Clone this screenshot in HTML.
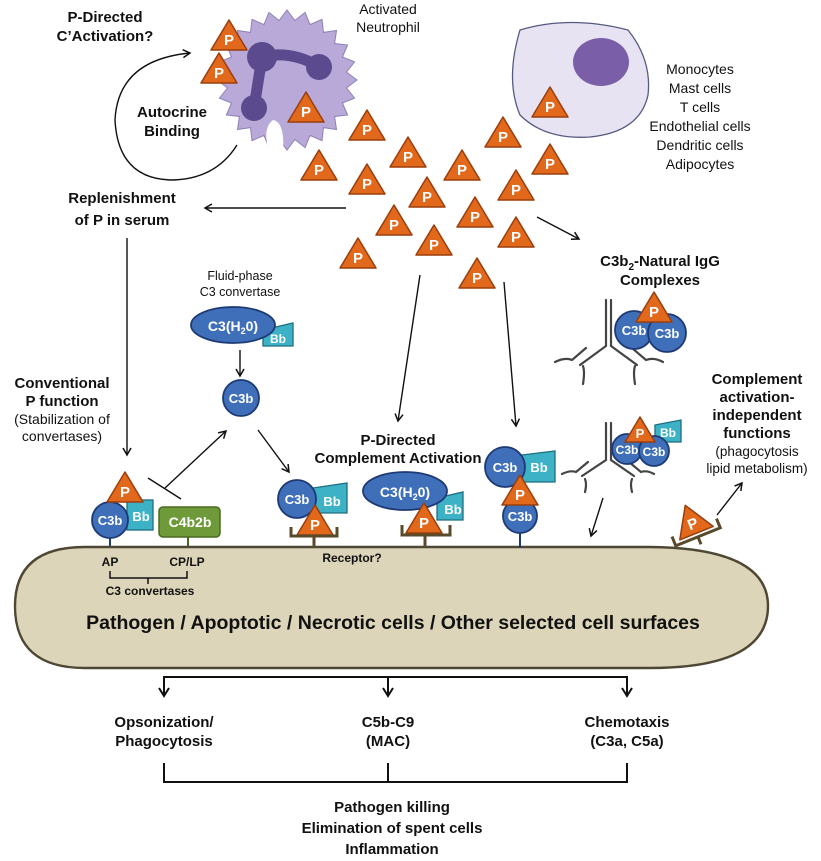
<!DOCTYPE html>
<html><head><meta charset="utf-8"><style>
html,body{margin:0;padding:0;background:#fff;}
svg{display:block;font-family:"Liberation Sans",Arial,sans-serif;}
.b{font-weight:bold;fill:#111;font-size:15px;text-anchor:middle;}
.r{fill:#111;font-size:14px;text-anchor:middle;}
.w{fill:#fff;font-weight:bold;text-anchor:middle;}
.ln{stroke:#111;stroke-width:1.4;fill:none;}
.c3b{fill:#3f6fb8;stroke:#1d3a75;stroke-width:1.8;}
.bb{fill:#3db2c6;stroke:#1d6f80;stroke-width:1.3;}
.tri{fill:#e2691c;stroke:#9a3e0c;stroke-width:1.5;stroke-linejoin:round;}
.rec{stroke:#5a4a2a;stroke-width:3;fill:none;}
.ab{stroke:#444;stroke-width:2.2;fill:none;stroke-linecap:round;}
</style></head><body>
<svg width="821" height="861" viewBox="0 0 821 861" xmlns="http://www.w3.org/2000/svg">
<defs>
<marker id="ar" markerWidth="10" markerHeight="10" refX="8" refY="5" orient="auto" markerUnits="userSpaceOnUse">
<path d="M1,1 L8,5 L1,9" fill="none" stroke="#111" stroke-width="1.5"/></marker>
<g id="P"><polygon class="tri" points="0,-18 18,12 -18,12"/><text class="w" y="7" font-size="15">P</text></g>
<g id="Ps"><polygon class="tri" points="0,-15 15,10 -15,10"/><text class="w" y="6" font-size="13">P</text></g>
</defs>

<!-- neutrophil -->
<circle cx="287" cy="80" r="61" fill="#b9a9d9"/>
<polygon fill="#b9a9d9" stroke="#8f80b6" stroke-width="1" points="357,80 346.5,87.9 354.6,98.1 342.4,103 347.6,115 334.6,116.5 336.5,129.5 323.5,127.6 322,140.6 310,135.4 305.1,147.6 294.9,139.5 287,150 279.1,139.5 268.9,147.6 264,135.4 252,140.6 250.5,127.6 237.5,129.5 239.4,116.5 226.4,115 231.6,103 219.4,98.1 227.5,87.9 217,80 227.5,72.1 219.4,61.9 231.6,57 226.4,45 239.4,43.5 237.5,30.5 250.5,32.4 252,19.4 264,24.6 268.9,12.4 279.1,20.5 287,10 294.9,20.5 305.1,12.4 310,24.6 322,19.4 323.5,32.4 336.5,30.5 334.6,43.5 347.6,45 342.4,57 354.6,61.9 346.5,72.1"/>
<path d="M269,152 Q262,128 273,120 Q285,122 283,152 Z" fill="#fff"/>
<path d="M262,57 Q290,50 318,66 M262,57 L254,108" stroke="#5b4b8e" stroke-width="11" fill="none" stroke-linecap="round"/>
<circle cx="262" cy="57" r="15" fill="#5b4b8e"/>
<circle cx="319" cy="67" r="13" fill="#5b4b8e"/>
<circle cx="254" cy="108" r="13" fill="#5b4b8e"/>

<text class="b" x="105" y="22">P-Directed</text>
<text class="b" x="105" y="41">C’Activation?</text>
<text class="r" x="388" y="14">Activated</text>
<text class="r" x="388" y="32">Neutrophil</text>
<path class="ln" d="M237,145 Q215,180 170,180 Q118,178 115,120 Q118,60 190,53" marker-end="url(#ar)"/>
<text class="b" x="172" y="117">Autocrine</text>
<text class="b" x="172" y="136">Binding</text>

<!-- other cell -->
<path d="M520,30 Q570,15 628,30 Q652,60 648,95 Q640,132 590,137 Q545,140 520,115 Q505,80 520,30 Z" fill="#e7e3f2" stroke="#555a80" stroke-width="1.3"/>
<ellipse cx="601" cy="62" rx="28" ry="24" fill="#7a5fa8"/>
<g class="r">
<text x="700" y="74">Monocytes</text><text x="700" y="93">Mast cells</text><text x="700" y="112">T cells</text>
<text x="700" y="131">Endothelial cells</text><text x="700" y="150">Dendritic cells</text><text x="700" y="169">Adipocytes</text></g>

<!-- P triangles -->
<use href="#P" x="229" y="38"/><use href="#P" x="219" y="71"/><use href="#P" x="306" y="110"/>
<use href="#P" x="550" y="105"/>
<use href="#P" x="367" y="128"/><use href="#P" x="408" y="155"/><use href="#P" x="319" y="168"/>
<use href="#P" x="367" y="182"/><use href="#P" x="462" y="168"/><use href="#P" x="503" y="135"/>
<use href="#P" x="550" y="162"/><use href="#P" x="427" y="195"/><use href="#P" x="516" y="188"/>
<use href="#P" x="394" y="223"/><use href="#P" x="475" y="215"/><use href="#P" x="516" y="235"/>
<use href="#P" x="434" y="243"/><use href="#P" x="358" y="256"/><use href="#P" x="477" y="276"/>

<!-- replenishment -->
<line class="ln" x1="346" y1="208" x2="205" y2="208" marker-end="url(#ar)"/>
<text class="b" x="122" y="203">Replenishment</text>
<text class="b" x="122" y="225">of P in serum</text>
<line class="ln" x1="127" y1="238" x2="127" y2="455" marker-end="url(#ar)"/>

<text class="b" x="62" y="388">Conventional</text>
<text class="b" x="62" y="406">P function</text>
<text class="r" x="62" y="424">(Stabilization of</text>
<text class="r" x="62" y="441">convertases)</text>

<!-- fluid phase -->
<text class="r" x="240" y="280" style="font-size:12.5px">Fluid-phase</text>
<text class="r" x="240" y="296" style="font-size:12.5px">C3 convertase</text>
<polygon class="bb" points="263,330 293,323 293,346 263,346"/>
<text class="w" x="278" y="343" font-size="12">Bb</text>
<ellipse class="c3b" cx="233" cy="325" rx="42" ry="18"/>
<text class="w" x="233" y="331" font-size="14">C3(H<tspan font-size="9" dy="3">2</tspan><tspan dy="-3">0)</tspan></text>
<line class="ln" x1="240" y1="350" x2="240" y2="376" marker-end="url(#ar)"/>
<circle class="c3b" cx="241" cy="398" r="18"/>
<text class="w" x="241" y="403" font-size="13">C3b</text>

<!-- conventional convertases -->
<line class="ln" x1="165" y1="488" x2="226" y2="431" marker-end="url(#ar)"/>
<line class="ln" x1="148" y1="478" x2="181" y2="499"/>
<line class="ln" x1="258" y1="430" x2="289" y2="472" marker-end="url(#ar)"/>
<line x1="110" y1="536" x2="110" y2="548" stroke="#1d3a75" stroke-width="2"/>
<rect class="bb" x="127" y="500" width="26" height="30"/>
<text class="w" x="141" y="521" font-size="13">Bb</text>
<circle class="c3b" cx="110" cy="520" r="18"/>
<text class="w" x="110" y="525" font-size="13">C3b</text>
<use href="#P" x="125" y="490"/>
<line x1="188" y1="537" x2="188" y2="548" stroke="#4a6a22" stroke-width="2"/>
<rect x="159" y="507" width="61" height="30" rx="4" fill="#6e9a3a" stroke="#4a6a22" stroke-width="1.5"/>
<text class="w" x="190" y="527" font-size="14">C4b2b</text>

<!-- membrane -->
<path d="M85,547 L650,547 Q768,548 768,606 Q768,668 650,668 L85,668 Q15,668 15,606 Q15,547 85,547 Z" fill="#dcd5b9" stroke="#4d4733" stroke-width="2.4"/>
<text class="b" x="393" y="629" style="font-size:19.5px">Pathogen / Apoptotic / Necrotic cells / Other selected cell surfaces</text>
<g class="b" style="font-size:12px"><text x="110" y="566">AP</text><text x="187" y="566">CP/LP</text>
<text x="150" y="595">C3 convertases</text><text x="352" y="562">Receptor?</text></g>
<path d="M110,571 V578 H187 V571 M148,578 V584" stroke="#111" stroke-width="1.5" fill="none"/>

<!-- P directed -->
<text class="b" x="398" y="445">P-Directed</text>
<text class="b" x="398" y="463">Complement Activation</text>
<line class="ln" x1="420" y1="275" x2="398" y2="421" marker-end="url(#ar)"/>
<line class="ln" x1="504" y1="282" x2="516" y2="426" marker-end="url(#ar)"/>

<!-- group2 -->
<polygon class="bb" points="313,488 347,483 347,513 313,513"/>
<text class="w" x="332" y="506" font-size="13">Bb</text>
<circle class="c3b" cx="297" cy="499" r="19"/>
<text class="w" x="297" y="504" font-size="13">C3b</text>
<use href="#P" x="315" y="523"/>
<path class="rec" d="M291,527 V536 H337 V527 M314,536 V547"/>

<!-- group3 -->
<polygon class="bb" points="437,498 463,492 463,520 437,520"/>
<ellipse class="c3b" cx="405" cy="491" rx="42" ry="19"/>
<text class="w" x="405" y="497" font-size="14">C3(H<tspan font-size="9" dy="3">2</tspan><tspan dy="-3">0)</tspan></text>
<text class="w" x="453" y="514" font-size="13">Bb</text>
<use href="#P" x="424" y="521"/>
<path class="rec" d="M402,525 V535 H450 V525 M425,535 V547"/>

<!-- group4 -->
<polygon class="bb" points="522,455 555,451 555,482 522,482"/>
<text class="w" x="539" y="472" font-size="13">Bb</text>
<circle class="c3b" cx="505" cy="467" r="20"/>
<text class="w" x="505" y="472" font-size="13">C3b</text>
<line x1="520" y1="533" x2="520" y2="548" stroke="#1d3a75" stroke-width="2"/>
<circle class="c3b" cx="520" cy="516" r="17"/>
<text class="w" x="520" y="521" font-size="13">C3b</text>
<use href="#P" x="520" y="493"/>

<!-- IgG complexes -->
<line class="ln" x1="537" y1="217" x2="579" y2="239" marker-end="url(#ar)"/>
<text class="b" x="660" y="266">C3b<tspan font-size="10" dy="4">2</tspan><tspan dy="-4">-Natural IgG</tspan></text>
<text class="b" x="660" y="285">Complexes</text>
<path class="ab" d="M606,300 V346 L580,365 M611,300 V346 L637,365 M586,348 L572,360 Q565,357 555,362 M583,366 Q585,372 583,384 M632,348 L646,360 Q654,357 663,362 M635,366 Q633,372 635,384"/>
<circle class="c3b" cx="634" cy="330" r="19"/><text class="w" x="634" y="335" font-size="13">C3b</text>
<circle class="c3b" cx="667" cy="333" r="19"/><text class="w" x="667" y="338" font-size="13">C3b</text>
<use href="#P" x="654" y="310"/>

<path class="ab" d="M606,423 V460 L582,476 M611,423 V460 L634,476 M588,462 L576,472 Q570,470 562,474 M585,479 Q587,484 585,492 M629,462 L641,472 Q647,470 654,474 M632,479 Q630,484 632,492"/>
<polygon class="bb" points="655,425 681,420 681,442 655,442"/><text class="w" x="668" y="437" font-size="12">Bb</text>
<circle class="c3b" cx="627" cy="449" r="15"/><text class="w" x="627" y="454" font-size="12">C3b</text>
<circle class="c3b" cx="654" cy="451" r="15"/><text class="w" x="654" y="456" font-size="12">C3b</text>
<use href="#Ps" x="640" y="432"/>
<line class="ln" x1="603" y1="498" x2="591" y2="536" marker-end="url(#ar)"/>

<!-- right P -->
<g transform="translate(692,522) rotate(-22)">
<polygon class="tri" points="0,-18 18,12 -18,12"/><text class="w" y="7" font-size="15">P</text>
<path class="rec" d="M-24,6 V16 H24 V6 M0,16 V24"/></g>
<line class="ln" x1="717" y1="515" x2="742" y2="483" marker-end="url(#ar)"/>
<text class="b" x="757" y="384">Complement</text>
<text class="b" x="757" y="402">activation-</text>
<text class="b" x="757" y="420">independent</text>
<text class="b" x="757" y="438">functions</text>
<text class="r" x="757" y="456" style="font-size:13.5px">(phagocytosis</text>
<text class="r" x="757" y="473" style="font-size:13.5px">lipid metabolism)</text>

<!-- bottom -->
<path d="M164,694 V677 H627 V694 M388,677 V694" stroke="#111" stroke-width="2" fill="none"/>
<path d="M159,688 L164,696 L169,688 M383,688 L388,696 L393,688 M622,688 L627,696 L632,688" stroke="#111" stroke-width="2" fill="none"/>
<text class="b" x="164" y="727">Opsonization/</text><text class="b" x="164" y="746">Phagocytosis</text>
<text class="b" x="388" y="727">C5b-C9</text><text class="b" x="388" y="746">(MAC)</text>
<text class="b" x="627" y="727">Chemotaxis</text><text class="b" x="627" y="746">(C3a, C5a)</text>
<path d="M164,763 V782 H627 V763 M388,763 V782" stroke="#111" stroke-width="2" fill="none"/>
<text class="b" x="392" y="812">Pathogen killing</text>
<text class="b" x="392" y="833">Elimination of spent cells</text>
<text class="b" x="392" y="854">Inflammation</text>
</svg>
</body></html>
